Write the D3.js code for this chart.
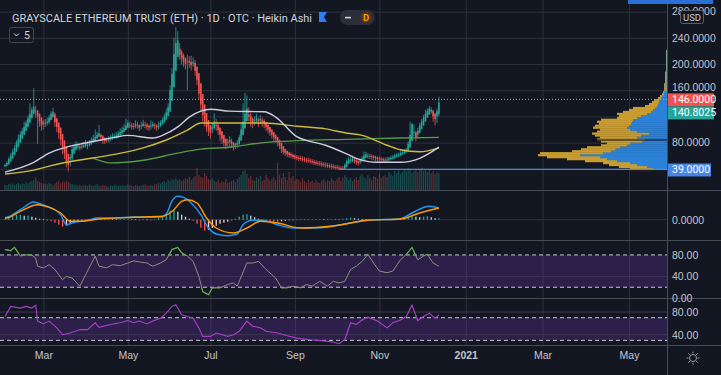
<!DOCTYPE html>
<html>
<head>
<meta charset="utf-8">
<script src="https://cdnjs.cloudflare.com/ajax/libs/d3/7.8.5/d3.min.js"></script>
<style>
  body { margin: 0; background: #131722; }
  svg { display: block; font-family: Roboto, "Noto Sans", sans-serif; }
</style>
</head>
<body>
<svg id="chart" width="721" height="375"></svg>
<script>
// Heikin Ashi closes, highs, lows (one per trading day from 2020-02-03)
const firstOpen = 44;
const closes = [46,49,55,60,66,72,80,86,92,98,104,110,117,124,130,134,
  128,120,112,106, 108,110,112, 118,124,127, 111,104, 95,84,73,64, 52,46, 58,70,
  74,77,75,72,74,76,78,76, 80,83,86,89,92,94, 88,84,82,84, 86,88,89,90, 91,94,96,99,
  102,106,110,106,104, 105,108,106,103,106,109,107,104,103,106,108,105,103,106,
  110,114,119,126,134, 160,185,215,232,236, 214,208,204, 200,205,202,198,203, 190,176,
  155,138,122, 112,104,98,95, 104,112, 106,99,92,86,80,76, 80,84,78,75, 76,79,
  88,100,112,124,132, 120,112, 110,114,117,112,116,112, 108,104,100,96,92,88,85,
  80,75,70, 66,64,62,61,60, 58,57,56,55,55,54,53,52,52,51,50,
  49,48,48,47,46,46,45,44,44,43,42,42, 41,40,40,40, 46,52,55,53,56, 52,50,49,
  53,56,60,62, 60,59,58, 57,56,55,55,54,53,53,54, 56,57,58,60,61,62,64,65,67,69,
  78,92,108, 96,88, 98,106,112,118,124, 128,132,130, 120,116, 128,141];
const highs = [48,52,58,64,70,76,84,92,97,102,112,114,121,140,134,163,
  136,130,124,116, 114,116,118, 122,128,133, 126,116, 110,100,88,78, 68,58, 62,74,
  78,82,80,78,78,80,84,82, 84,88,92,100,96,107, 94,92,88,88, 90,92,94,94, 96,98,102,104,
  108,116,114,112,110, 110,114,112,108,112,115,112,110,108,114,112,110,108,112,
  114,118,124,132,140, 168,194,240,256,250, 232,222,216, 210,214,212,212,210, 206,196,
  180,160,142, 126,116,108,102, 110,125, 116,110,100,94,88,82, 86,90,86,80, 80,84,
  92,110,140,156,152, 134,125, 118,120,124,118,122,118, 116,112,108,104,100,96,92,
  88,82,76, 72,70,68,66,65, 63,62,61,60,60,59,58,57,57,56,55,
  54,53,52,52,51,50,50,49,48,48,47,46, 46,45,44,44, 48,54,58,58,60, 57,55,53,
  56,60,66,66, 64,63,62, 61,60,59,59,58,57,57,58, 58,60,61,63,64,65,67,68,70,72,
  82,112,110, 108,98, 102,110,116,122,130, 132,136,134, 130,124, 132,150];
const lows = [42,44,46,52,58,62,68,74,80,88,92,98,104,110,118,124,
  118,78,104,98, 100,104,106, 108,114,118, 104,96, 86,76,62,55, 42,36, 44,52,
  64,70,70,68,70,72,72,70, 74,76,80,82,86,88, 82,78,78,80, 80,82,84,86, 86,88,90,92,
  96,100,104,102,100, 100,102,101,98,100,104,102,99,98,100,103,100,98,100,
  104,108,112,118,124, 132,158,180,205,222, 206,200,196, 192,160,194,190,196, 182,168,
  146,128,112, 104,96,90,86, 94,100, 98,92,82,78,74,70, 72,74,72,68, 70,72,
  76,84,96,108,118, 112,104, 102,106,110,104,108,104, 102,98,94,90,86,82,80,
  74,70,64, 62,60,58,57,56, 55,54,53,52,52,51,50,49,49,48,47,
  46,45,45,44,43,43,42,41,41,40,40,39, 39,38,38,39, 39,42,48,49,50, 48,46,45,
  47,50,53,56, 56,55,54, 53,52,51,51,50,49,50,50, 51,53,54,55,57,58,59,61,62,64,
  66,72,84, 90,82, 86,94,100,106,112, 118,122,124, 112,106, 110,120];
const volumes = [500,450,600,550,650,500,600,700,550,650,600,750,650,800,900,1000,1300,900,800,700,
  600,650,550,700,600,500,650,800,900,700,850,750,900,800,650,600,500,550,450,500,
  400,450,500,400,550,450,400,500,600,450,400,500,450,400,350,450,400,500,450,400,
  450,500,400,450,550,500,450,400,500,450,400,450,500,550,450,400,500,450,550,600,
  700,650,800,900,750,1000,900,1100,1000,1200,950,1100,900,1000,1200,1100,1300,1000,1200,1400,
  2200,1500,1300,1200,1700,1400,1100,1000,1200,900,800,1000,700,900,800,1100,700,800,900,1000,
  800,1100,1300,1500,1900,2000,1600,1200,1400,1000,900,1300,1100,1400,900,1000,1500,1200,900,1100,
  1300,1000,2700,1500,1200,1700,1300,1000,1800,1200,1400,900,1100,1000,800,1200,900,700,1000,800,
  900,700,1000,800,700,900,1100,800,1000,900,1200,1000,900,1100,1300,900,1200,1500,1300,1000,
  1200,900,1100,1300,1000,1400,1600,1300,1100,1500,1200,1000,1400,1300,1100,1600,1200,1400,1500,1300,
  1800,1600,1400,1900,1700,2000,1600,1800,2100,1900,2200,2000,1700,1900,2100,1800,2000,2200,1900,2100,
  1800,2000,1700,1900,1600,1800,1700];

// moving averages, [bar index, value]
const maFast = [[0,35],[15,50],[23,64],[32,73],[41,79],[50,84],[57,88],[64,91],[77,87],[82,91],[90,104],
  [96,119],[102,128],[107,131],[117,128],[135,127],[141,119],[152,89],[167,76],[177,64],[183,56],
  [194,50],[206,50],[216,56],[226,73]];
const maMid = [[0,32],[15,38],[23,44],[32,50],[57,62],[72,72],[84,84],[95,99],[102,110],[115,110],[135,110],
  [152,105],[167,101],[177,95],[186,91],[199,76],[206,69],[216,66],[226,72]];
const maSlow = [[46,56],[50,52],[55,49],[72,53],[90,64],[102,70],[117,73],[135,80],[152,83],[177,85],
  [206,87],[226,88]];

// MACD pane
const macdLine = [[0,2],[1,2.4],[8,10],[15,17.7],[17,16.7],[22,13.4],[25,11],[29,5],[32,-5],[35,-3.3],
  [43,-0.6],[48,1.7],[58,1.7],[67,2.7],[81,2.7],[84,5.7],[87,18.7],[90,23.4],[93,22.4],[97,16.7],
  [102,5],[106,-8.3],[110,-14.3],[116,-16],[121,-14.3],[124,-5],[129,-0.6],[134,-0.6],[142,-5],
  [150,-8.3],[162,-8.3],[180,-3.3],[189,-0.6],[206,1],[212,6.7],[221,13.4],[226,11.7]];
const signalLine = [[0,1.5],[1,1.7],[8,8.4],[17,15],[23,12.4],[29,6.7],[34,-1.6],[39,-1.6],[49,0.7],
  [67,2.4],[82,3.4],[88,10],[92,18.4],[95,20],[100,16.7],[105,1.7],[110,-8.3],[119,-13.3],[126,-8.3],
  [133,-1.6],[142,-3.3],[154,-8.3],[171,-6.3],[189,-0.6],[206,0.7],[216,6.7],[226,11.7]];
// histogram, every second bar
const histVals = [1,3,4,5,5,4,4,3,2,1,0.5,0,-1.5,-3,-5,-7,-6,-4,-2.5,-1.5,-1,-0.5,0.5,1,1,0.8,0.6,0.5,0.4,0.3,
  0.3,0.5,0.6,0.4,0.2,-0.2,0.3,0.2,-0.3,0.4,1.5,3,6,9,10,8,5,3,1,-1,-4,-8,-11,-10,-8,-6,-4,-3,-2,-0.5,
  1,3,5,5.5,4,2.5,1,-0.5,-1.5,-2,-2,-2,-1.5,-1,-0.5,-0.3,0.2,0.3,0.4,0.5,0.5,0.6,0.6,0.5,0.5,0.6,0.8,0.8,1,1.5,
  2,1.5,1,0.8,0.5,0.3,0.5,0.8,0.6,0.5,0.6,0.8,0.8,1,1.2,2,3.5,3,2.5,3,3.5,2.5,1.5,1.5];

// oscillator panes, [bar index, value]
const stochPts = [[0,90],[3,88],[5,94],[8,78],[11,80],[14,80],[16,74],[17,59],[20,56],[23,62],[26,53],[30,34],
  [32,40],[35,37],[39,22],[43,50],[47,78],[49,59],[53,56],[56,62],[60,60],[64,65],[67,69],[70,67],[74,65],
  [77,59],[81,65],[84,71],[87,90],[90,94],[92,84],[95,78],[98,68],[101,40],[103,12],[106,6],[108,19],[112,19],
  [116,25],[119,28],[121,22],[126,65],[129,65],[132,68],[136,53],[141,37],[144,19],[147,19],[150,22],[154,19],
  [157,25],[160,22],[164,31],[168,22],[171,31],[174,28],[177,31],[180,53],[183,59],[186,68],[189,81],[192,65],
  [195,50],[199,47],[202,50],[206,71],[209,81],[212,94],[215,71],[218,78],[220,81],[223,65],[226,59]];
const rsiPts = [[0,72],[3,90],[8,87],[11,90],[14,87],[16,92],[17,64],[20,59],[23,64],[27,52],[30,40],[34,43],
  [39,49],[43,49],[47,61],[49,53],[55,58],[60,61],[64,65],[67,61],[70,64],[74,59],[77,64],[81,69],[84,78],
  [87,90],[89,93],[92,75],[95,72],[98,69],[101,52],[103,37],[107,37],[110,43],[116,37],[119,40],[122,46],
  [126,64],[129,55],[133,52],[136,46],[142,43],[147,38],[152,34],[159,31],[166,29],[171,27],[174,24],[177,31],
  [180,61],[183,58],[186,66],[189,71],[194,64],[199,52],[202,61],[206,66],[209,72],[212,92],[215,65],[218,72],
  [221,78],[224,69],[226,75]];

// volume profile rows
const vpPrice = [40,43,46,49,52,55,58,61,64,67,70,73,76,79,82,85,88,91,94,97,100,103,106,109,112,115,118,121,
  124,127,130,133,136,139,142,145,148,151,154,157,160,163,166,169,172,175,178,181,184,187,190,193,196,199,
  202,205,208,211,214,217,220];
const vpUp = [14,20,30,37,50,60,67,87,64,56,52,47,40,37,25,22,30,26,18,30,37,40,38,36,35,34,30,26,20,16,
  14,12,10,9,8,8,6,5,3,3,2,2,2,2,1,1,1,1,1,1,1,1,1,1,1,1,1,1,1,1,1];
const vpDown = [23,28,28,27,32,40,53,42,63,39,34,33,26,23,41,48,37,46,57,40,30,34,34,32,35,32,20,22,30,28,
  24,22,12,9,7,5,3,2,2,1,1,1,1,1,1,1,1,1,1,1,0,0,0,0,0,0,0,0,0,0,0];

const priceTicks = [40,80,120,160,200,240,280];
const hiddenTicks = [40, 120];   // labels covered by the price tags
const monthTicks = ["2020-03-02","2020-05-01","2020-07-01","2020-09-01","2020-11-02","2021-01-04","2021-03-01","2021-05-03"];
const monthLabels = ["Mar","May","Jul","Sep","Nov","2021","Mar","May"];

const lastPrice = 146, haClose = 140.8025, lowLevel = 39;

const W = 721, H = 375, PR = 667;
const BG = '#131722', GRID = '#2c303b', SEP = '#474b56', TXT = '#c3c6ce';
const UP = '#26a69a', DN = '#ef5350';

// trading days (weekdays) for the index axis
const days = [];
const dd = new Date(2020, 1, 3);
while (days.length < 350) {
    if (dd.getDay() % 6 !== 0) days.push(d3.timeFormat('%Y-%m-%d')(dd));
    dd.setDate(dd.getDate() + 1);
}
const tickIdx = monthTicks.map(s => days.indexOf(s));

const svg = d3.select('#chart');
svg.append('rect').attr('width', W).attr('height', H).attr('fill', BG);

const x = d3.scaleLinear().domain([-0.5, 344.8]).range([4, PR]);
const yMain = d3.scaleLinear().domain([10.7, 297.7]).range([188, 0]);
const yVol = d3.scaleLinear().domain([0, 3000]).range([190, 160]);
const yMacd = d3.scaleLinear().domain([-20.3, 28.7]).range([240, 191]);
const yStoch = d3.scaleLinear().domain([0, 105.9]).range([298, 241]);
const yRsi = d3.scaleLinear().domain([21.8, 103]).range([345, 299]);
const vpW = d3.scaleLinear().domain([0, 130]).range([0, 130]);

const defs = svg.append('defs');
function clip(id, y0, y1) {
    defs.append('clipPath').attr('id', id).append('rect')
        .attr('x', 0).attr('y', y0).attr('width', PR).attr('height', y1 - y0);
}
clip('cMain', 0, 190);
clip('cMacd', 191, 240);
clip('cStoch', 241, 298);
clip('cRsi', 299, 345);
const ext = defs.append('clipPath').attr('id', 'cStochExt');
ext.append('rect').attr('x', 0).attr('y', 241).attr('width', PR).attr('height', yStoch(80) - 241);
ext.append('rect').attr('x', 0).attr('y', yStoch(20)).attr('width', PR).attr('height', 298 - yStoch(20));

// vertical grid through all panes
const gv = svg.append('g').call(d3.axisBottom(x).tickValues(tickIdx).tickSize(345).tickFormat(''));
gv.select('.domain').remove();
gv.selectAll('line').attr('stroke', GRID);

// ---------- main pane ----------
const main = svg.append('g').attr('clip-path', 'url(#cMain)');
const gh = main.append('g').attr('transform', `translate(${PR},0)`)
    .call(d3.axisLeft(yMain).tickValues(priceTicks).tickSize(PR).tickFormat(''));
gh.select('.domain').remove();
gh.selectAll('line').attr('stroke', GRID);

// heikin ashi bars
const bars = [];
for (let i = 0; i < closes.length; i++) {
    const o = i === 0 ? firstOpen : (bars[i - 1].o + bars[i - 1].c) / 2;
    const c = closes[i];
    const h = Math.max(highs[i] ?? c, o, c), l = Math.min(lows[i] ?? c, o, c);
    bars.push({ i, o, c, h, l, up: c >= o, v: volumes[i] || 0 });
}

main.append('g').selectAll('rect').data(bars).join('rect')
    .attr('x', d => x(d.i) - 0.6).attr('width', 1.2)
    .attr('y', d => yVol(d.v)).attr('height', d => 190 - yVol(d.v))
    .attr('fill', d => d.up ? UP : DN).attr('opacity', 0.38);

// volume profile
const vp = main.append('g');
const rowH = Math.abs(yMain(3) - yMain(0));
vpPrice.forEach((p, k) => {
    const yy = yMain(p) - rowH / 2;
    const u = vpW(vpUp[k]), dn = vpW(vpDown[k]);
    const thin = p >= 160;
    vp.append('rect').attr('x', PR - u).attr('y', yy).attr('width', u).attr('height', rowH + 0.3)
        .attr('fill', thin ? '#7f9d8c' : '#2b82d8');
    if (dn > 0) vp.append('rect').attr('x', PR - u - dn).attr('y', yy).attr('width', dn).attr('height', rowH + 0.3)
        .attr('fill', thin ? '#a89a60' : '#c99c2e');
});
vp.append('line').attr('x1', PR - 75).attr('x2', PR).attr('y1', yMain(84)).attr('y2', yMain(84))
    .attr('stroke', '#0d0f14').attr('stroke-width', 1);

// candles
const cg = main.append('g');
cg.selectAll('line').data(bars).join('line')
    .attr('x1', d => x(d.i)).attr('x2', d => x(d.i))
    .attr('y1', d => yMain(d.h)).attr('y2', d => yMain(d.l))
    .attr('stroke', d => d.up ? UP : DN).attr('stroke-width', 0.8);
cg.selectAll('rect').data(bars).join('rect')
    .attr('x', d => x(d.i) - 0.8).attr('width', 1.6)
    .attr('y', d => yMain(Math.max(d.o, d.c)))
    .attr('height', d => Math.max(0.8, Math.abs(yMain(d.o) - yMain(d.c))))
    .attr('fill', d => d.up ? UP : DN);

// moving averages
const maLine = d3.line().x(d => x(d[0])).y(d => yMain(d[1])).curve(d3.curveMonotoneX);
[[maSlow, '#559a45'], [maMid, '#cdbb3e'], [maFast, '#cfcbe0']].forEach(([data, col]) => {
    main.append('path').datum(data).attr('d', maLine).attr('fill', 'none')
        .attr('stroke', col).attr('stroke-width', 1.4);
});

// price lines
main.append('line').attr('x1', 0).attr('x2', PR).attr('y1', yMain(lastPrice)).attr('y2', yMain(lastPrice))
    .attr('stroke', '#a3a6af').attr('stroke-dasharray', '1,2');
main.append('line').attr('x1', x(174)).attr('x2', PR).attr('y1', yMain(lowLevel)).attr('y2', yMain(lowLevel))
    .attr('stroke', '#4f86e6').attr('stroke-width', 1.2);

// ---------- MACD pane ----------
const mg = svg.append('g').attr('clip-path', 'url(#cMacd)');
mg.append('line').attr('x1', 0).attr('x2', PR).attr('y1', yMacd(0)).attr('y2', yMacd(0)).attr('stroke', GRID);
const hist = histVals.map((v, k) => ({ i: k * 2, v, prev: k ? histVals[k - 1] : 0 }));
mg.selectAll('rect').data(hist).join('rect')
    .attr('x', d => x(d.i) - 0.6).attr('width', 1.3)
    .attr('y', d => yMacd(Math.max(0, d.v)))
    .attr('height', d => Math.max(0.6, Math.abs(yMacd(d.v) - yMacd(0))))
    .attr('fill', d => d.v >= 0 ? (d.v >= d.prev ? UP : '#b2dfdb') : (d.v <= d.prev ? '#ff5252' : '#ffcdd2'));
const macdPath = d3.line().x(d => x(d[0])).y(d => yMacd(d[1])).curve(d3.curveMonotoneX);
mg.append('path').datum(macdLine).attr('d', macdPath).attr('fill', 'none').attr('stroke', '#2196f3').attr('stroke-width', 1.4);
mg.append('path').datum(signalLine).attr('d', macdPath).attr('fill', 'none').attr('stroke', '#ff9800').attr('stroke-width', 1.4);

// ---------- oscillator pane 1 ----------
const sg = svg.append('g').attr('clip-path', 'url(#cStoch)');
sg.append('rect').attr('x', 0).attr('width', PR).attr('y', yStoch(80)).attr('height', yStoch(20) - yStoch(80))
    .attr('fill', 'rgba(126,60,200,0.24)');
sg.append('line').attr('x1', 0).attr('x2', PR).attr('y1', yStoch(40)).attr('y2', yStoch(40)).attr('stroke', '#3a3454');
[80, 20].forEach(v => sg.append('line').attr('x1', 0).attr('x2', PR).attr('y1', yStoch(v)).attr('y2', yStoch(v))
    .attr('stroke', '#c8c8d4').attr('stroke-dasharray', '4,3'));
const stochPath = d3.line().x(d => x(d[0])).y(d => yStoch(d[1]));
sg.append('path').datum(stochPts).attr('d', stochPath).attr('fill', 'none').attr('stroke', '#86937a').attr('stroke-width', 1);
sg.append('path').datum(stochPts).attr('d', stochPath).attr('fill', 'none').attr('stroke', '#5fb043')
    .attr('stroke-width', 1.1).attr('clip-path', 'url(#cStochExt)');

// ---------- oscillator pane 2 ----------
const rg = svg.append('g').attr('clip-path', 'url(#cRsi)');
rg.append('rect').attr('x', 0).attr('width', PR).attr('y', yRsi(70)).attr('height', yRsi(30) - yRsi(70))
    .attr('fill', 'rgba(126,60,200,0.24)');
[80, 40].forEach(v => rg.append('line').attr('x1', 0).attr('x2', PR).attr('y1', yRsi(v)).attr('y2', yRsi(v)).attr('stroke', '#3d3756'));
[70, 30].forEach(v => rg.append('line').attr('x1', 0).attr('x2', PR).attr('y1', yRsi(v)).attr('y2', yRsi(v))
    .attr('stroke', '#c8c8d4').attr('stroke-dasharray', '4,3'));
rg.append('path').datum(rsiPts).attr('d', d3.line().x(d => x(d[0])).y(d => yRsi(d[1])))
    .attr('fill', 'none').attr('stroke', '#a940c8').attr('stroke-width', 1.1);

// separators
[190.5, 240.5, 298.5, 345.5].forEach(yy => svg.append('line').attr('x1', 0).attr('x2', W)
    .attr('y1', yy).attr('y2', yy).attr('stroke', SEP));
svg.append('line').attr('x1', PR + 0.5).attr('x2', PR + 0.5).attr('y1', 0).attr('y2', H).attr('stroke', SEP);

// ---------- axes ----------
function rightAxis(scale, ticks, fmt, skip) {
    const f = d3.format(fmt);
    const g = svg.append('g').attr('transform', `translate(${PR},0)`)
        .call(d3.axisRight(scale).tickValues(ticks).tickFormat(d => (skip || []).includes(d) ? '' : f(d))
            .tickSize(0).tickPadding(5));
    g.select('.domain').remove();
    g.selectAll('text').attr('fill', TXT).attr('font-size', 10.5);
    return g;
}
const pAxis = rightAxis(yMain, priceTicks, '.4f', hiddenTicks);
// 160 sits just above the last-price tag
pAxis.selectAll('text').filter(d => d === 160).attr('dy', '0.05em');
rightAxis(yMacd, [0], '.4f');
rightAxis(yStoch, [0, 40, 80], '.2f');
rightAxis(yRsi, [40, 80], '.2f');

const xa = svg.append('g').attr('transform', 'translate(0,345)')
    .call(d3.axisBottom(x).tickValues(tickIdx).tickFormat((d, k) => monthLabels[k]).tickSize(0).tickPadding(7));
xa.select('.domain').remove();
xa.selectAll('text').attr('fill', TXT).attr('font-size', 10.5)
    .attr('font-weight', (d, k) => monthLabels[k] === '2021' ? 'bold' : 'normal');

// price labels
function tag(yc, col, txt, w) {
    svg.append('rect').attr('x', PR + 1).attr('y', yc - 6).attr('width', w).attr('height', 13).attr('fill', col);
    svg.append('text').attr('x', PR + 5).attr('y', yc + 4).attr('fill', '#fff').attr('font-size', 10.5).text(txt);
}
tag(yMain(lastPrice), DN, d3.format('.4f')(lastPrice), 46);
tag(yMain(lastPrice) + 13, UP, d3.format('.4f')(haClose), 46);
tag(yMain(lowLevel), '#4a85e6', d3.format('.4f')(lowLevel), 43);

// USD badge and top strip
svg.append('rect').attr('x', 628).attr('y', 0).attr('width', 85).attr('height', 4).attr('fill', '#2a6fd6');
svg.append('rect').attr('x', 680.5).attr('y', 10.5).attr('width', 23).attr('height', 13).attr('rx', 2)
    .attr('fill', BG).attr('stroke', '#5d606b');
svg.append('text').attr('x', 692).attr('y', 20.5).attr('text-anchor', 'middle').attr('fill', TXT)
    .attr('font-size', 9.5).text('USD');

// header
svg.append('text').attr('x', 12).attr('y', 22).attr('fill', '#d1d4dc').attr('font-size', 11.5)
    .attr('textLength', 300).attr('lengthAdjust', 'spacingAndGlyphs')
    .text('GRAYSCALE ETHEREUM TRUST (ETH) · 1D · OTC · Heikin Ashi');
svg.append('path').attr('d', 'M319,12 h8 l-3,5 l3,5 h-8 z').attr('fill', '#2f7cf6');
svg.append('rect').attr('x', 340).attr('y', 10).attr('width', 35).attr('height', 15).attr('rx', 7.5).attr('fill', '#2a2e39');
svg.append('rect').attr('x', 345).attr('y', 16.8).attr('width', 6).attr('height', 1.6).attr('fill', '#d1d4dc');
svg.append('circle').attr('cx', 366).attr('cy', 17.5).attr('r', 6).attr('fill', '#4b3421');
svg.append('text').attr('x', 366).attr('y', 21).attr('text-anchor', 'middle').attr('fill', '#ff9800')
    .attr('font-size', 9.5).attr('font-weight', 'bold').text('D');
svg.append('rect').attr('x', 9.5).attr('y', 27.5).attr('width', 24).attr('height', 15).attr('rx', 2)
    .attr('fill', 'none').attr('stroke', '#434651');
svg.append('path').attr('d', 'M14,33.5 l2.5,2.5 l2.5,-2.5').attr('fill', 'none').attr('stroke', '#d1d4dc');
svg.append('text').attr('x', 24).attr('y', 39).attr('fill', '#d1d4dc').attr('font-size', 10.5).text('5');

// settings gear
const gear = svg.append('g').attr('transform', 'translate(693,358)').attr('stroke', '#9598a1').attr('fill', 'none');
gear.append('circle').attr('r', 3.5);
d3.range(8).forEach(k => {
    const a = k * Math.PI / 4;
    gear.append('line').attr('x1', Math.cos(a) * 4.5).attr('y1', Math.sin(a) * 4.5)
        .attr('x2', Math.cos(a) * 6.5).attr('y2', Math.sin(a) * 6.5);
});
</script>
</body>
</html>
